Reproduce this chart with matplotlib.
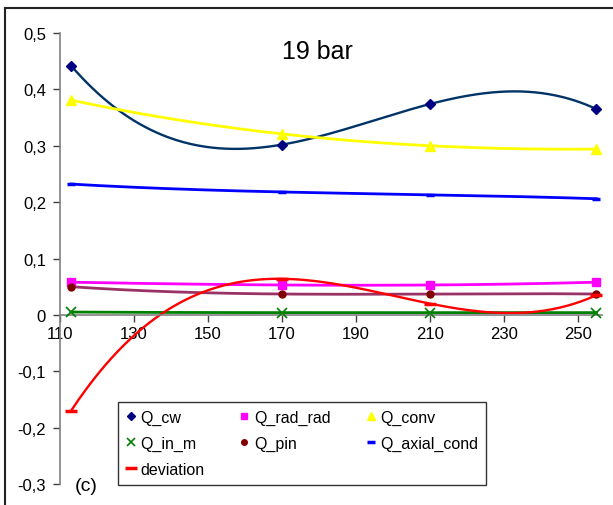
import numpy as np
import matplotlib
matplotlib.use("Agg")
import matplotlib.pyplot as plt
from matplotlib.lines import Line2D
from matplotlib.ticker import FuncFormatter, MultipleLocator, FixedLocator

plt.rcParams['font.family'] = ['Liberation Sans', 'DejaVu Sans']

# data
pressure = [113, 170, 210, 255]
Q_cw = [0.442, 0.302, 0.374, 0.365]
Q_rad_rad = [0.058, 0.053, 0.053, 0.058]
Q_conv = [0.381, 0.321, 0.300, 0.294]
Q_in_m = [0.005, 0.004, 0.004, 0.004]
Q_pin = [0.050, 0.037, 0.037, 0.037]
Q_axial_cond = [0.232, 0.218, 0.213, 0.206]
deviation = [-0.170, 0.064, 0.020, 0.035]
x_ticks = [110, 130, 150, 170, 190, 210, 230, 250]
title_text = "19 bar"
panel_label = "(c)"

series = [
    # name, values, line color, marker, marker color, marker size, line width
    ("Q_cw", Q_cw, '#003366', 'D', '#000080', 5, 1.7),
    ("Q_rad_rad", Q_rad_rad, '#FF00FF', 's', '#FF00FF', 6, 2.0),
    ("Q_conv", Q_conv, '#FFFF00', '^', '#FFFF00', 7, 2.0),
    ("Q_in_m", Q_in_m, '#008000', 'x', '#008000', 7, 2.0),
    ("Q_pin", Q_pin, '#993366', 'o', '#800000', 5, 2.0),
    ("Q_axial_cond", Q_axial_cond, '#0000FF', '_', '#0000FF', 6, 2.0),
    ("deviation", deviation, '#FF0000', '_', '#FF0000', 8, 1.7),
]

fig = plt.figure(figsize=(6.13, 5.06), dpi=100)
W, H = 613, 506
ax = fig.add_axes([60 / W, (H - 485) / H, (602 - 60) / W, (485 - 34) / H])

x = np.array(pressure, dtype=float)
xs = np.linspace(x.min(), x.max(), 300)
handles = {}
for name, vals, lc, mk, mc, ms, lw in series:
    coef = np.polyfit(x, np.array(vals, dtype=float), 3)
    ax.plot(xs, np.polyval(coef, xs), color=lc, lw=lw, zorder=2)
    mew = 1.2 if mk == 'x' else (2.5 if mk == '_' else 1)
    ax.plot(x, vals, linestyle='None', marker=mk, color=mc, markersize=ms,
            markeredgewidth=mew, zorder=3)
    handles[name] = Line2D([], [], linestyle='None', marker=mk, color=mc,
                           markersize=ms - 1 if mk != '_' else ms,
                           markeredgewidth=mew)

ax.set_xlim(110, 256.5)
ax.set_ylim(-0.3, 0.5)
ax.xaxis.set_major_locator(FixedLocator(x_ticks))
ax.yaxis.set_major_locator(MultipleLocator(0.1))

def yfmt(v, pos):
    if abs(v) < 1e-9:
        return "0"
    return f"{v:.1f}".replace('.', ',')

ax.yaxis.set_major_formatter(FuncFormatter(yfmt))
ax.xaxis.set_major_formatter(FuncFormatter(lambda v, p: f"{v:.0f}"))

for s in ('top', 'right'):
    ax.spines[s].set_visible(False)
ax.spines['bottom'].set_position(('data', 0))
for s in ('left', 'bottom'):
    ax.spines[s].set_color('#808080')
    ax.spines[s].set_linewidth(1.2)
ax.tick_params(axis='both', direction='out', length=5, width=1, color='#404040',
               labelsize=12, labelcolor='black')
ax.tick_params(axis='x', pad=3)
ax.tick_params(axis='y', pad=5)

fig.text(317 / W, (H - 52) / H, title_text, ha='center', va='center', fontsize=18)
fig.text(86 / W, (H - 487) / H, panel_label, ha='center', va='center', fontsize=14)

order = ["Q_cw", "Q_in_m", "deviation", "Q_rad_rad", "Q_pin", "Q_conv", "Q_axial_cond"]
leg = fig.legend([handles[n] for n in order], order, ncol=3,
                 loc='upper left', bbox_to_anchor=(118 / W, (H - 403) / H),
                 fontsize=11.5, frameon=True, fancybox=False, edgecolor='black',
                 handlelength=0.6, handletextpad=0.3, columnspacing=2.2,
                 labelspacing=0.68, borderpad=0.5, borderaxespad=0)
leg.get_frame().set_linewidth(1.0)

fig.add_artist(Line2D([5.5 / W, 5.5 / W], [0, (H - 8.5) / H], color='#222222', lw=1.5,
                      transform=fig.transFigure))
fig.add_artist(Line2D([5.5 / W, 1], [(H - 8.5) / H, (H - 8.5) / H], color='#222222', lw=1.5,
                      transform=fig.transFigure))

fig.savefig("out.png", dpi=100)
